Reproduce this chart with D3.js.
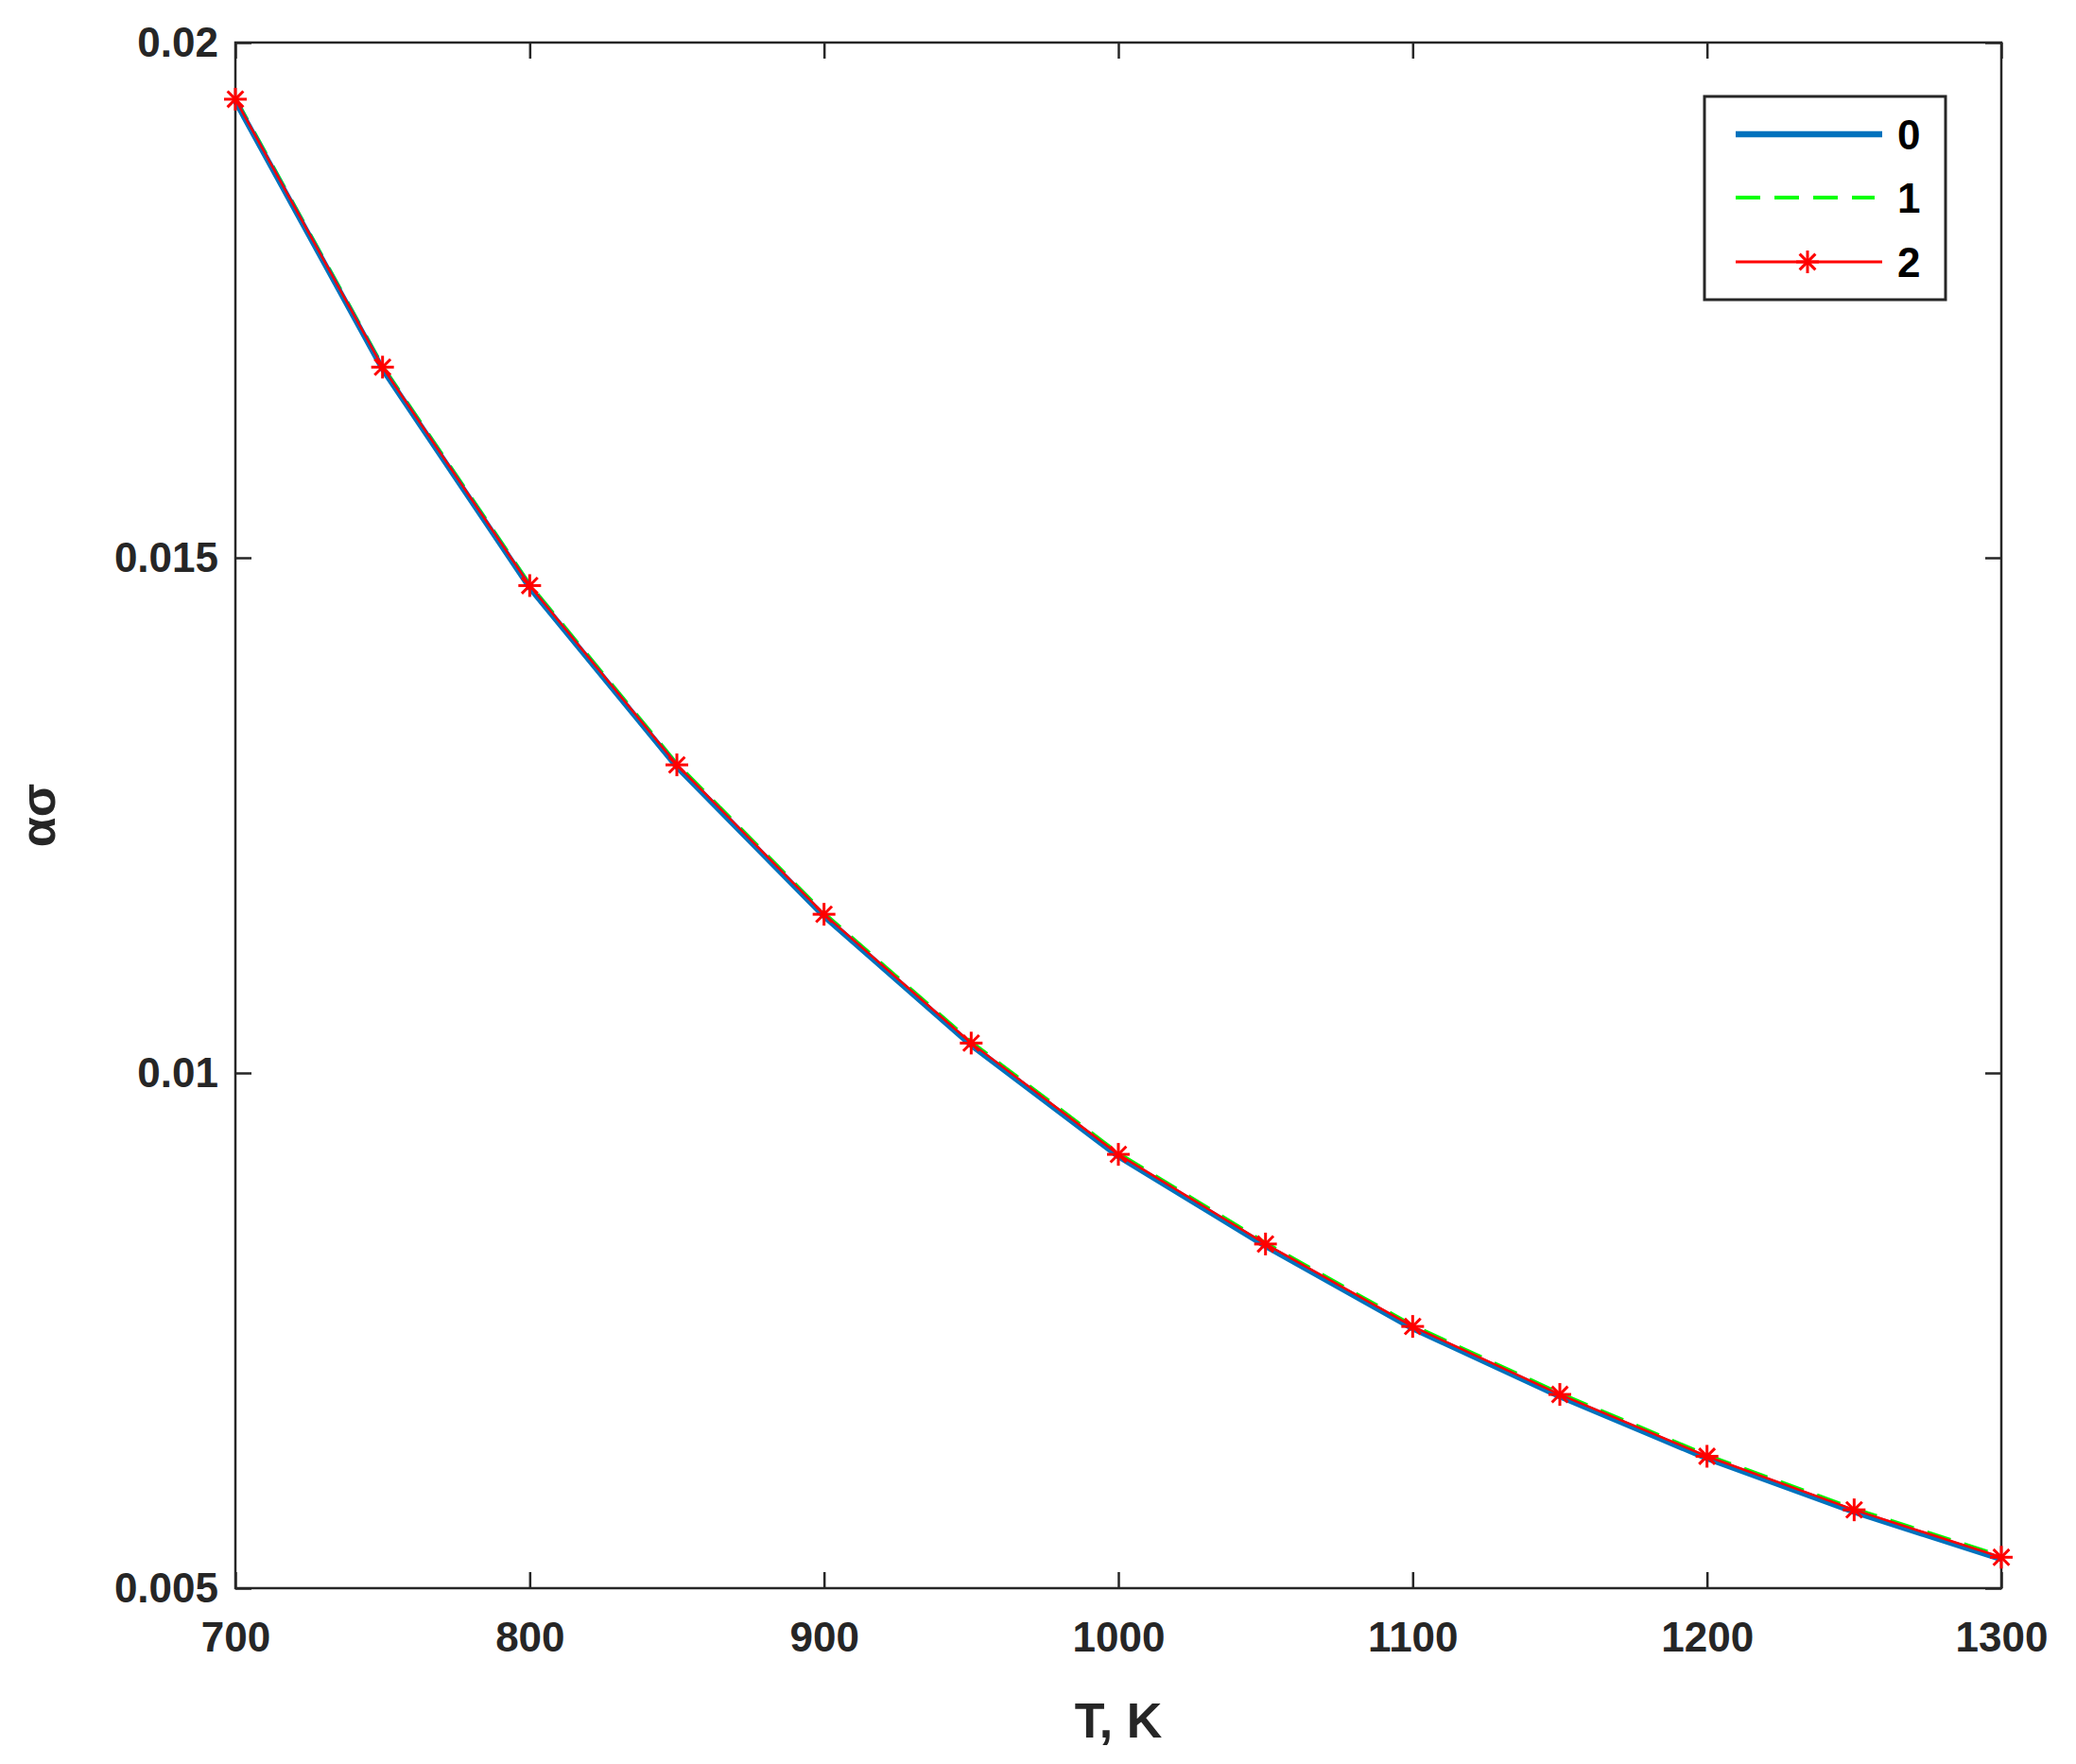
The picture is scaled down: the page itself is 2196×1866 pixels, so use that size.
<!DOCTYPE html><html><head><meta charset="utf-8">
<script src="https://cdn.jsdelivr.net/npm/d3@7"></script>
<style>body{margin:0;background:#fff}text{font-family:"Liberation Sans",Arial,sans-serif;font-weight:bold}</style>
</head><body><svg id="c" width="2196" height="1866"></svg><script>
const temps=[700,750,800,850,900,950,1000,1050,1100,1150,1200,1250,1300];
const s0=[0.01943,0.01683,0.01471,0.01297,0.01152,0.01027,0.00919,0.00832,0.00752,0.00686,0.00626,0.00574,0.00528];
const s1=[0.01946,0.01686,0.01474,0.01300,0.01155,0.01030,0.00922,0.00835,0.00755,0.00689,0.00629,0.00577,0.00531];
const s2=[0.01945,0.01685,0.01473,0.01299,0.01154,0.01029,0.00921,0.00834,0.00754,0.00688,0.00628,0.00576,0.00530];
const xTicks=[700,800,900,1000,1100,1200,1300];
const yTicks=[0.005,0.01,0.015,0.02];
const names=["0","1","2"];
const svg=d3.select("#c");
const L=249,R=2117,T=45,B=1680;
const x=d3.scaleLinear().domain([700,1300]).range([L,R]);
const y=d3.scaleLinear().domain([0.005,0.02]).range([B,T]);
const ax="#262626";
svg.append("rect").attr("x",L).attr("y",T).attr("width",R-L).attr("height",B-T).attr("fill","none").attr("stroke",ax).attr("stroke-width",2.5);
const fmt=d=>String(d);
svg.append("g").attr("transform",`translate(0,${B})`).call(d3.axisBottom(x).tickValues(xTicks).tickFormat(fmt).tickSize(-17).tickPadding(36)).call(g=>{g.select(".domain").remove();g.selectAll("line").attr("stroke",ax).attr("stroke-width",2.5);g.selectAll("text").attr("font-size",44).attr("fill",ax);});
svg.append("g").attr("transform",`translate(0,${T})`).call(d3.axisTop(x).tickValues(xTicks).tickFormat("").tickSize(-17)).call(g=>{g.select(".domain").remove();g.selectAll("line").attr("stroke",ax).attr("stroke-width",2.5);});
svg.append("g").attr("transform",`translate(${L},0)`).call(d3.axisLeft(y).tickValues(yTicks).tickFormat(fmt).tickSize(-17).tickPadding(18)).call(g=>{g.select(".domain").remove();g.selectAll("line").attr("stroke",ax).attr("stroke-width",2.5);g.selectAll("text").attr("font-size",44).attr("fill",ax);});
svg.append("g").attr("transform",`translate(${R},0)`).call(d3.axisRight(y).tickValues(yTicks).tickFormat("").tickSize(-17)).call(g=>{g.select(".domain").remove();g.selectAll("line").attr("stroke",ax).attr("stroke-width",2.5);});
svg.append("text").attr("x",(L+R)/2).attr("y",1838).attr("text-anchor","middle").attr("font-size",52).attr("fill",ax).text("T, K");
svg.append("text").attr("transform",`translate(58,${(T+B)/2}) rotate(-90)`).attr("text-anchor","middle").attr("font-size",52).attr("fill",ax).text("ασ");
const line=d=>d3.line().x((v,i)=>x(temps[i])).y(v=>y(v))(d);
const g=svg.append("g");
g.append("path").attr("d",line(s1)).attr("fill","none").attr("stroke","#00ff00").attr("stroke-width",4).attr("stroke-dasharray","26,15");
g.append("path").attr("d",line(s0)).attr("fill","none").attr("stroke","#0072bd").attr("stroke-width",6);
g.append("path").attr("d",line(s2)).attr("fill","none").attr("stroke","#ff0000").attr("stroke-width",2.5);
function star(sel,cx,cy){const r=12;const p=sel.append("g").attr("transform",`translate(${cx},${cy})`).attr("stroke","#ff0000").attr("stroke-width",3);
[[0,-r,0,r],[-r,0,r,0],[-r*0.7,-r*0.7,r*0.7,r*0.7],[-r*0.7,r*0.7,r*0.7,-r*0.7]].forEach(a=>p.append("line").attr("x1",a[0]).attr("y1",a[1]).attr("x2",a[2]).attr("y2",a[3]));}
s2.forEach((v,i)=>star(g,x(temps[i]),y(v)));
// legend
const lg=svg.append("g");
lg.append("rect").attr("x",1803).attr("y",102).attr("width",255).attr("height",215).attr("fill","#fff").attr("stroke",ax).attr("stroke-width",3);
const ly=[142,209,277];
lg.append("line").attr("x1",1836).attr("x2",1991).attr("y1",ly[0]).attr("y2",ly[0]).attr("stroke","#0072bd").attr("stroke-width",6.5);
lg.append("line").attr("x1",1836).attr("x2",1983).attr("y1",ly[1]).attr("y2",ly[1]).attr("stroke","#00ff00").attr("stroke-width",4).attr("stroke-dasharray","26,15");
lg.append("line").attr("x1",1836).attr("x2",1991).attr("y1",ly[2]).attr("y2",ly[2]).attr("stroke","#ff0000").attr("stroke-width",3);
star(lg,1912,ly[2]);
names.forEach((n,i)=>lg.append("text").attr("x",2007).attr("y",ly[i]+16).attr("font-size",44).attr("fill","#000").text(n));
</script></body></html>
